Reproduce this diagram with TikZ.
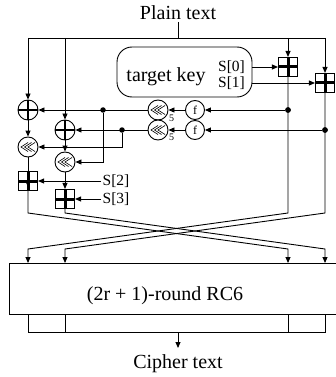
\documentclass[tikz,border=0pt]{standalone}
\usepackage{fontspec}
\setmainfont{Liberation Serif}
\usetikzlibrary{arrows.meta}
\begin{document}
\begin{tikzpicture}[x=1pt,y=-1pt, line width=0.9pt,
  arr/.style={-{Triangle[length=6pt,width=5pt]}},
  dotn/.style={circle,fill,inner sep=0pt,minimum size=5.5pt},
  bplus/.style={draw,fill=white,line width=1.1pt,minimum size=19pt,inner sep=0pt,
    path picture={\draw[line width=3pt] (path picture bounding box.north)--(path picture bounding box.south)
      (path picture bounding box.west)--(path picture bounding box.east);}},
  xorn/.style={draw,circle,fill=white,minimum size=20pt,inner sep=0pt,
    path picture={\draw[line width=1.8pt] (path picture bounding box.north)--(path picture bounding box.south)
      (path picture bounding box.west)--(path picture bounding box.east);}},
  rotn/.style={draw,circle,fill=white,minimum size=20pt,inner sep=0pt,
    path picture={\draw[line width=0.6pt,shift={(path picture bounding box.center)}]
      (0,-4.5)--(-7,0)--(0,4.5) (3.5,-4.5)--(-3.5,0)--(3.5,4.5) (7,-4.5)--(0,0)--(7,4.5);}},
  fn/.style={draw,circle,fill=white,minimum size=19pt,inner sep=0pt,font=\fontsize{12}{12}\selectfont},
  big/.style={font=\fontsize{20}{24}\selectfont,inner sep=1.5pt},
  small/.style={font=\fontsize{15.5}{18}\selectfont,inner sep=1pt},
  tiny/.style={font=\fontsize{10}{10}\selectfont,inner sep=0pt}
]
\useasboundingbox (0,0) rectangle (336,377);

% top
\node[big] (plain) at (178,13) {Plain text};
\coordinate (tA) at (28,38);
\coordinate (tB) at (65,38);
\coordinate (tC) at (288,38);
\coordinate (tD) at (325,38);
\draw (plain.south) -- (plain.south |- tA);
\draw (tA) -- (tD);

% key box
\node[draw,rounded corners=15pt,minimum width=135pt,minimum height=50pt,inner sep=0pt] (key) at (184.5,72) {};
\node[big] (tk) at (166,77) {target key};
\node[small] (s0) at (231.5,67.5) {S[0]};
\node[small] (s1) at (231.5,83) {S[1]};

% lane operators
\node[bplus] (pC) at (288,67) {};
\node[bplus] (pD) at (325,83) {};
\node[xorn] (xA) at (28,110) {};
\node[xorn] (xB) at (65,130) {};
\node[rotn] (rA) at (28,147) {};
\node[rotn] (rB) at (65,162) {};
\node[bplus] (pA) at (28,181) {};
\node[bplus] (pB) at (65,199) {};

% round function
\node[fn] (f1) at (195,110) {f};
\node[fn] (f2) at (195,130) {f};
\node[rotn] (r1) at (158,110) {};
\node[rotn] (r2) at (158,130) {};
\node[tiny] (n1) at (171.5,118) {5};
\node[tiny] (n2) at (171.5,137.5) {5};

\node[dotn] (dC) at (288,110) {};
\node[dotn] (dD) at (325,130) {};
\node[dotn] (d1) at (103,110) {};
\node[dotn] (d2) at (122,130) {};

\node[small] (s2) at (116,181) {S[2]};
\node[small] (s3) at (116,199) {S[3]};

% key inputs
\draw[arr] (key.east |- pC) -- (pC.west);
\draw[arr] (key.east |- pD) -- (pD.west);

% lanes from top
\draw[arr] (tA) -- (xA.north);
\draw[arr] (tB) -- (xB.north);
\draw[arr] (tC) -- (pC.north);
\draw[arr] (tD) -- (pD.north);

% row 1 and row 2
\draw[arr] (dC) -- (f1);
\draw[arr] (f1) -- (r1);
\draw[arr] (r1) -- (xA);
\draw[arr] (dD) -- (f2);
\draw[arr] (f2) -- (r2);
\draw[arr] (r2) -- (xB);
\draw[arr] (d2) |- (rA);
\draw[arr] (d1) |- (rB);

% lane A / B
\draw[arr] (xA) -- (rA);
\draw[arr] (xB) -- (rB);
\draw[arr] (rB) -- (pB);
\draw[arr] (s2.west) -- (pA.east);
\draw[arr] (s3.west) -- (pB.east);

% big box
\node[draw,anchor=north west,minimum width=331pt,minimum height=51pt,inner sep=0pt] (rc) at (9,263) {};
\node[big] (rct) at (165,295.5) {(2r + 1)-round RC6};

% crossing
\coordinate (eA) at (28,213);
\coordinate (eB) at (65,213);
\coordinate (eC) at (288,213);
\coordinate (eD) at (325,213);
\coordinate (bA) at (28,249);
\coordinate (bB) at (65,249);
\coordinate (bC) at (288,249);
\coordinate (bD) at (325,249);
\draw[arr] (pA.south) -- (eA) -- (bC) -- (bC |- rc.north);
\draw[arr] (pB.south) -- (eB) -- (bD) -- (bD |- rc.north);
\draw[arr] (pC.south) -- (eC) -- (bA) -- (bA |- rc.north);
\draw[arr] (pD.south) -- (eD) -- (bB) -- (bB |- rc.north);
\draw[arr] (rA) -- (28,187);
\node[dotn] at (dC) {};
\node[dotn] at (dD) {};

% output
\coordinate (oA) at (28,332);
\coordinate (oD) at (325,332);
\coordinate (om) at (178,332);
\coordinate (cend) at (178,348);
\draw (oA |- rc.south) -- (oA) -- (oD) -- (oD |- rc.south);
\draw (bB |- rc.south) -- (bB |- oA);
\draw (bC |- rc.south) -- (bC |- oA);
\node[big] (cipher) at (178,364) {Cipher text};
\draw[arr] (om) -- (cend);
\end{tikzpicture}
\end{document}
